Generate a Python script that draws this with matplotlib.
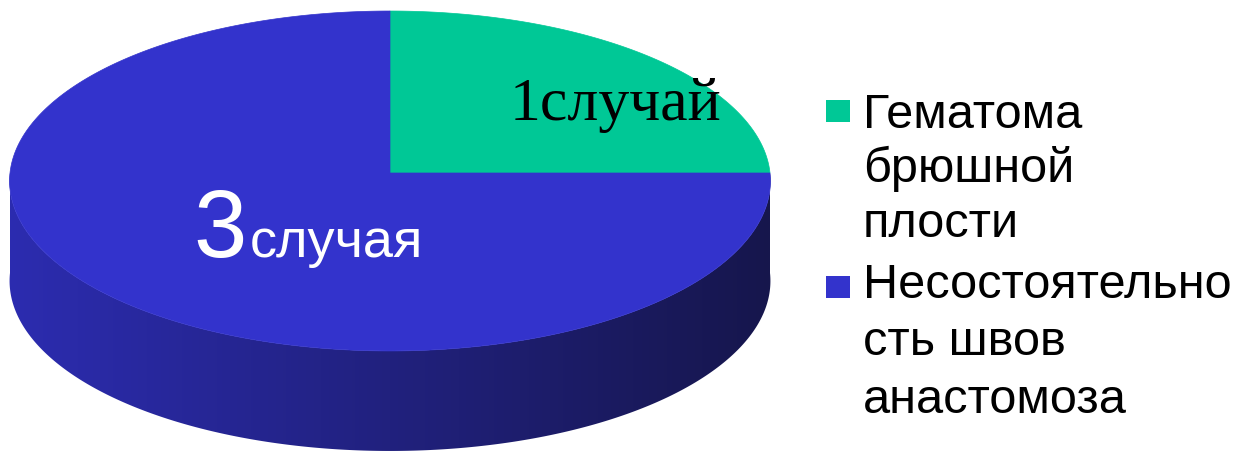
import numpy as np
import matplotlib
matplotlib.use("Agg")
import matplotlib.pyplot as plt
from matplotlib.patches import Polygon, Rectangle

# ---- data ----
categories = ["Гематома\nбрюшной\nплости", "Несостоятельно\nсть швов\nанастомоза"]
values = [1, 3]
colors = ["#00C896", "#3333CC"]

W, H = 1233, 460
fig = plt.figure(figsize=(W / 100, H / 100), dpi=100)
ax = fig.add_axes([0, 0, 1, 1])
ax.set_xlim(0, W)
ax.set_ylim(H, 0)
ax.axis("off")

cx, cy, rx, ry, k, depth = 390, 174, 380, 169.6, 0.047, 100

def proj(t, dz=0.0):
    s = 1.0 / (1.0 + k * np.sin(t))
    return cx + rx * np.cos(t) * s, cy - ry * np.sin(t) * s + dz

# side (front half) with smooth horizontal gradient
ts = np.linspace(np.pi, 2 * np.pi, 400)
xt, yt = proj(ts)
xb, yb = proj(ts[::-1], depth)
side_pts = list(zip(xt, yt)) + list(zip(xb, yb))
side = Polygon(side_pts, closed=True, facecolor="none", edgecolor="none")
ax.add_patch(side)
c_left = np.array([44, 44, 176]) / 255
c_right = np.array([22, 22, 76]) / 255
f = np.linspace(0, 1, 512)[None, :, None]
grad = c_left * (1 - f) + c_right * f
im = ax.imshow(np.repeat(grad, 2, axis=0), extent=(cx - rx - 2, cx + rx + 2, cy + ry + depth + 30, cy - 20),
               aspect="auto", interpolation="bilinear", zorder=1)
im.set_clip_path(side)
ax.set_xlim(0, W)
ax.set_ylim(H, 0)

# top face slices: start at 90 deg, clockwise
total = sum(values)
start = np.pi / 2
for v, col in zip(values, colors):
    span = 2 * np.pi * v / total
    tt = np.linspace(start, start - span, 300)
    xs, ys = proj(tt)
    pts = [(cx, cy)] + list(zip(xs, ys))
    ax.add_patch(Polygon(pts, closed=True, facecolor=col, edgecolor=col, linewidth=0.5, zorder=2))
    start -= span

# data labels
ax.text(510, 120, f"{values[0]}случай", fontsize=44.5, family="Liberation Serif",
        color="black", va="baseline", ha="left", zorder=3)
ax.text(193, 257, f"{values[1]}", fontsize=69, family="Liberation Sans",
        color="white", va="baseline", ha="left", zorder=3)
ax.text(250, 257, "случая", fontsize=39, family="Liberation Sans",
        color="white", va="baseline", ha="left", zorder=3)

# legend
legend_first_baselines = [128, 298]
line_steps = [54.5, 57.5]
square_tops = [101, 277]
for cat, col, b0, step, sq in zip(categories, colors, legend_first_baselines, line_steps, square_tops):
    ax.add_patch(Rectangle((826, sq), 24, 22, facecolor=col, edgecolor="none"))
    for i, line in enumerate(cat.split("\n")):
        ax.text(863, b0 + i * step, line, fontsize=35, family="Liberation Sans",
                color="black", va="baseline", ha="left")

fig.savefig("out.png", dpi=100)
